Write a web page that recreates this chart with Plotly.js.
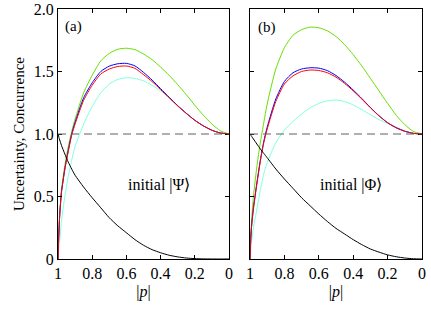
<!DOCTYPE html>
<html><head><meta charset="utf-8">
<script src="https://cdn.plot.ly/plotly-3.0.1.min.js"></script>
<style>html,body{margin:0;padding:0;background:#fff}#plot{width:431px;height:311px}</style>
</head><body><div id="plot"></div>
<script>
const pGrid = [1, 0.995, 0.99, 0.98, 0.96, 0.94, 0.92, 0.9, 0.85, 0.8, 0.75, 0.7, 0.65, 0.6, 0.55, 0.5, 0.45, 0.4, 0.35, 0.3, 0.25, 0.2, 0.15, 0.1, 0.05, 0];
const xTickVals = [1, 0.8, 0.6, 0.4, 0.2, 0];
const xTickText = ['1', '0.8', '0.6', '0.4', '0.2', '0'];
const yTickVals = [0, 0.5, 1, 1.5, 2];
const yTickText = ['0', '0.5', '1.0', '1.5', '2.0'];

// panel (a): initial |Psi>
const aRed   = [0, 0.2, 0.35, 0.53, 0.72, 0.86, 0.99, 1.08, 1.27, 1.39, 1.48, 1.52, 1.54, 1.544, 1.525, 1.475, 1.42, 1.355, 1.29, 1.225, 1.165, 1.11, 1.065, 1.03, 1.008, 1.0];
const aBlue  = [0, 0.2, 0.35, 0.53, 0.72, 0.87, 1.0, 1.095, 1.29, 1.41, 1.5, 1.543, 1.562, 1.565, 1.545, 1.493, 1.432, 1.363, 1.294, 1.227, 1.166, 1.11, 1.065, 1.03, 1.008, 1.0];
const aGreen = [0, 0.2, 0.36, 0.55, 0.75, 0.9, 1.02, 1.12, 1.33, 1.47, 1.585, 1.645, 1.678, 1.686, 1.675, 1.64, 1.595, 1.535, 1.47, 1.395, 1.315, 1.23, 1.15, 1.08, 1.025, 1.0];
const aCyan  = [0, 0.1, 0.15, 0.3, 0.5, 0.66, 0.79, 0.9, 1.08, 1.22, 1.33, 1.4, 1.437, 1.45, 1.445, 1.425, 1.39, 1.345, 1.288, 1.224, 1.165, 1.11, 1.065, 1.03, 1.008, 1.0];
const aBlack = [1, 0.975, 0.952, 0.91, 0.84, 0.775, 0.72, 0.67, 0.575, 0.49, 0.41, 0.33, 0.265, 0.21, 0.155, 0.11, 0.075, 0.05, 0.03, 0.017, 0.008, 0.003, 0.001, 0, 0, 0];

// panel (b): initial |Phi>
const bRed   = [0, 0.17, 0.27, 0.4, 0.6, 0.78, 0.93, 1.04, 1.26, 1.4, 1.465, 1.5, 1.512, 1.508, 1.49, 1.455, 1.405, 1.345, 1.28, 1.21, 1.145, 1.09, 1.05, 1.022, 1.005, 1.0];
const bBlue  = [0, 0.18, 0.28, 0.41, 0.61, 0.79, 0.94, 1.055, 1.28, 1.42, 1.49, 1.52, 1.53, 1.527, 1.507, 1.468, 1.415, 1.352, 1.284, 1.212, 1.146, 1.09, 1.05, 1.022, 1.005, 1.0];
const bGreen = [0, 0.2, 0.32, 0.5, 0.74, 0.93, 1.09, 1.24, 1.52, 1.69, 1.79, 1.835, 1.855, 1.85, 1.825, 1.78, 1.715, 1.635, 1.545, 1.445, 1.345, 1.245, 1.15, 1.075, 1.02, 1.0];
const bCyan  = [0, 0.08, 0.15, 0.25, 0.4, 0.55, 0.68, 0.77, 0.93, 1.03, 1.1, 1.16, 1.21, 1.245, 1.265, 1.272, 1.26, 1.232, 1.195, 1.155, 1.115, 1.085, 1.055, 1.025, 1.006, 1.0];
const bBlack = [1, 0.99, 0.98, 0.96, 0.92, 0.88, 0.845, 0.81, 0.72, 0.64, 0.565, 0.49, 0.425, 0.36, 0.3, 0.245, 0.2, 0.155, 0.115, 0.08, 0.055, 0.033, 0.018, 0.008, 0.002, 0];

const panelLabels = ['(a)', '(b)'];
const stateLabels = ['initial |Ψ⟩', 'initial |Φ⟩'];

const colors = {red: '#ff0000', blue: '#0000ff', green: '#66e000', cyan: '#7fffe0', black: '#000000'};
const FONT = 'Liberation Serif, Times New Roman, serif';

function mk(y, color, xa, ya) {
  return {x: pGrid, y: y, xaxis: xa, yaxis: ya, type: 'scatter', mode: 'lines',
    line: {color: color, width: 1, shape: 'spline', smoothing: 0.6}, hoverinfo: 'skip', showlegend: false};
}
const data = [
  mk(aCyan, colors.cyan, 'x', 'y'), mk(aGreen, colors.green, 'x', 'y'), mk(aBlue, colors.blue, 'x', 'y'), mk(aRed, colors.red, 'x', 'y'), mk(aBlack, colors.black, 'x', 'y'),
  mk(bCyan, colors.cyan, 'x2', 'y2'), mk(bGreen, colors.green, 'x2', 'y2'), mk(bBlue, colors.blue, 'x2', 'y2'), mk(bRed, colors.red, 'x2', 'y2'), mk(bBlack, colors.black, 'x2', 'y2')
];

const W = 431, H = 311;
const yDom = [(H - 259) / H, (H - 9) / H];
function xax(dom, anchor) {
  return {domain: dom, anchor: anchor, range: [1, 0], tickmode: 'array', tickvals: xTickVals, ticktext: xTickText,
    ticks: 'inside', ticklen: 4, tickwidth: 1, tickcolor: '#000', showline: true, linecolor: '#000', linewidth: 1, mirror: 'ticks',
    showgrid: false, zeroline: false, tickfont: {family: FONT, size: 16, color: '#000'},
    title: {text: '|<i>p</i>|', font: {family: FONT, size: 16, color: '#000'}, standoff: 4}};
}
function yax(anchor, labels) {
  return {domain: yDom, anchor: anchor, range: [0, 2], tickmode: 'array', tickvals: yTickVals, ticktext: yTickText,
    ticks: 'inside', ticklen: 4, tickwidth: 1, tickcolor: '#000', showline: true, linecolor: '#000', linewidth: 1, mirror: 'ticks',
    showgrid: false, zeroline: false, showticklabels: labels, tickfont: {family: FONT, size: 16, color: '#000'}};
}
const layout = {
  width: W, height: H, margin: {l: 0, r: 0, t: 0, b: 0}, paper_bgcolor: '#fff', plot_bgcolor: '#fff',
  xaxis: xax([58 / W, 229 / W], 'y'), yaxis: yax('x', true),
  xaxis2: xax([250 / W, 422 / W], 'y2'), yaxis2: yax('x2', false),
  shapes: [
    {type: 'line', xref: 'x domain', yref: 'y', x0: 0, x1: 1, y0: 1, y1: 1, line: {color: '#606060', width: 1, dash: '8px,5px'}},
    {type: 'line', xref: 'x2 domain', yref: 'y2', x0: 0, x1: 1, y0: 1, y1: 1, line: {color: '#606060', width: 1, dash: '8px,5px'}}
  ],
  annotations: [
    {text: 'Uncertainty, Concurrence', textangle: -90, xref: 'paper', yref: 'paper', x: 19 / W, y: (H - 134) / H, showarrow: false, xanchor: 'center', yanchor: 'middle', font: {family: FONT, size: 15, color: '#000'}},
    {text: panelLabels[0], xref: 'paper', yref: 'paper', x: 63 / W, y: (H - 26) / H, xanchor: 'left', yanchor: 'middle', showarrow: false, font: {family: FONT, size: 15, color: '#000'}},
    {text: panelLabels[1], xref: 'paper', yref: 'paper', x: 256 / W, y: (H - 27) / H, xanchor: 'left', yanchor: 'middle', showarrow: false, font: {family: FONT, size: 15, color: '#000'}},
    {text: stateLabels[0], xref: 'paper', yref: 'paper', x: 159 / W, y: (H - 185) / H, xanchor: 'center', yanchor: 'middle', showarrow: false, font: {family: FONT, size: 16, color: '#000'}},
    {text: stateLabels[1], xref: 'paper', yref: 'paper', x: 351 / W, y: (H - 185) / H, xanchor: 'center', yanchor: 'middle', showarrow: false, font: {family: FONT, size: 16, color: '#000'}}
  ]
};
Plotly.newPlot('plot', data, layout, {staticPlot: true, displayModeBar: false});
</script></body></html>
